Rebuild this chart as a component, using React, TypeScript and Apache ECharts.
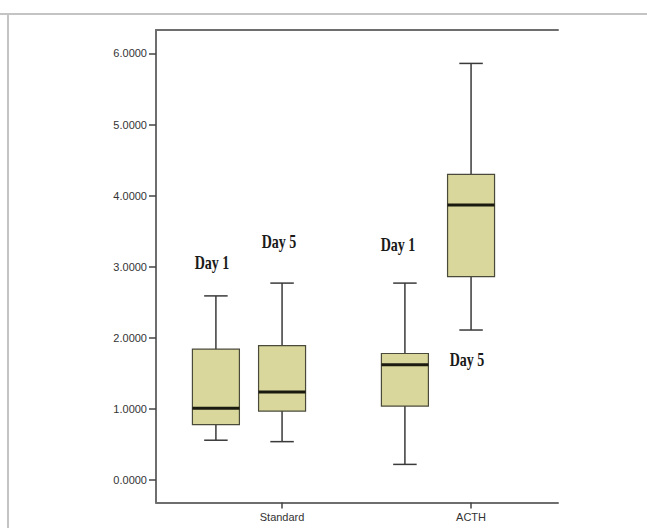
import React, { useEffect, useRef } from "react";
import * as echarts from "echarts";

// Categories (groups on x axis) and sub-groups (days)
const groups = ["Standard", "ACTH"];
const days = ["Day 1", "Day 5"];

// Box statistics: [min whisker, Q1, median, Q3, max whisker]
const standardDay1 = [0.56, 0.78, 1.01, 1.84, 2.59];
const standardDay5 = [0.54, 0.97, 1.24, 1.89, 2.77];
const acthDay1 = [0.22, 1.04, 1.62, 1.78, 2.77];
const acthDay5 = [2.11, 2.86, 3.87, 4.3, 5.86];

// y-axis tick values
const yTicks = [0, 1, 2, 3, 4, 5, 6];

export default function App() {
  const ref = useRef<HTMLDivElement>(null);

  useEffect(() => {
    if (!ref.current) return;
    const chart = echarts.init(ref.current, null, { renderer: "svg" });

    const dayOffset = [-0.35, 0];
    const boxes = [
      [standardDay1, standardDay5],
      [acthDay1, acthDay5],
    ];
    const data: number[][] = [];
    boxes.forEach((g, gi) => {
      g.forEach((b, di) => {
        data.push([gi + 1 + dayOffset[di], ...b]);
      });
    });

    const boxW = 47;
    const renderItem = (params: any, api: any) => {
      const x = api.value(0);
      const lo = api.coord([x, api.value(1)]);
      const q1 = api.coord([x, api.value(2)]);
      const med = api.coord([x, api.value(3)]);
      const q3 = api.coord([x, api.value(4)]);
      const hi = api.coord([x, api.value(5)]);
      const cx = lo[0];
      const half = boxW / 2;
      const cap = boxW / 4;
      const wStyle = { stroke: "#3a3a3a", lineWidth: 1.5 };
      return {
        type: "group",
        children: [
          { type: "line", shape: { x1: cx, y1: hi[1], x2: cx, y2: q3[1] }, style: wStyle },
          { type: "line", shape: { x1: cx, y1: q1[1], x2: cx, y2: lo[1] }, style: wStyle },
          { type: "line", shape: { x1: cx - cap, y1: hi[1], x2: cx + cap, y2: hi[1] }, style: wStyle },
          { type: "line", shape: { x1: cx - cap, y1: lo[1], x2: cx + cap, y2: lo[1] }, style: wStyle },
          {
            type: "rect",
            shape: { x: cx - half, y: q3[1], width: boxW, height: q1[1] - q3[1] },
            style: { fill: "#d9d79b", stroke: "#4a4a3a", lineWidth: 1.2 },
          },
          {
            type: "line",
            shape: { x1: cx - half, y1: med[1], x2: cx + half, y2: med[1] },
            style: { stroke: "#1a1a10", lineWidth: 3 },
          },
        ],
      };
    };

    const dayText = (text: string, cx: number, cy: number) => ({
      type: "text",
      x: cx,
      y: cy,
      scaleX: 0.78,
      style: {
        text,
        font: "bold 18px 'Liberation Serif', serif",
        fill: "#1a1a1a",
        align: "center",
        verticalAlign: "middle",
      },
    });

    chart.setOption({
      animation: false,
      backgroundColor: "#ffffff",
      grid: { left: 156, top: 30, width: 402, height: 472.5 },
      xAxis: [
        {
          type: "value",
          min: 0.333,
          max: 2.46,
          splitLine: { show: false },
          axisLine: { show: true, onZero: false, lineStyle: { color: "#6e6e6e", width: 2 } },
          axisTick: {
            show: true,
            customValues: [1, 2],
            length: 6,
            lineStyle: { color: "#444", width: 1.5 },
          },
          axisLabel: {
            customValues: [1, 2],
            formatter: (v: number) => groups[Math.round(v) - 1] ?? "",
            color: "#333",
            fontSize: 11,
            fontFamily: "Arial, 'Liberation Sans', sans-serif",
            margin: 9,
          },
        },
        {
          type: "value",
          position: "top",
          min: 0.333,
          max: 2.46,
          splitLine: { show: false },
          axisLine: { show: true, onZero: false, lineStyle: { color: "#6e6e6e", width: 2 } },
          axisTick: { show: false },
          axisLabel: { show: false },
        },
      ],
      yAxis: {
        type: "value",
        min: -0.316,
        max: 6.33,
        splitLine: { show: false },
        axisLine: { show: true, onZero: false, lineStyle: { color: "#6e6e6e", width: 2 } },
        axisTick: {
          show: true,
          customValues: yTicks,
          length: 7,
          lineStyle: { color: "#444", width: 1.5 },
        },
        axisLabel: {
          customValues: yTicks,
          formatter: (v: number) => v.toFixed(4),
          color: "#333",
          fontSize: 11,
          fontFamily: "Arial, 'Liberation Sans', sans-serif",
          margin: 9,
        },
      },
      series: [
        {
          type: "custom",
          name: days.join(" / "),
          xAxisIndex: 0,
          renderItem,
          data,
          encode: { x: 0, y: [1, 2, 3, 4, 5] },
          z: 3,
        },
      ],
      graphic: [
        { type: "line", shape: { x1: 0, y1: 14, x2: 647, y2: 14 }, style: { stroke: "#c4c4c4", lineWidth: 2 } },
        { type: "line", shape: { x1: 8, y1: 14, x2: 8, y2: 528 }, style: { stroke: "#c4c4c4", lineWidth: 2 } },
        dayText(days[0], 212, 263),
        dayText(days[1], 279, 242),
        dayText(days[0], 398, 245),
        dayText(days[1], 467, 360),
      ],
    });

    return () => chart.dispose();
  }, []);

  return (
    <div
      ref={ref}
      style={{ position: "fixed", left: 0, top: 0, width: 647, height: 528, background: "#fff" }}
    />
  );
}
